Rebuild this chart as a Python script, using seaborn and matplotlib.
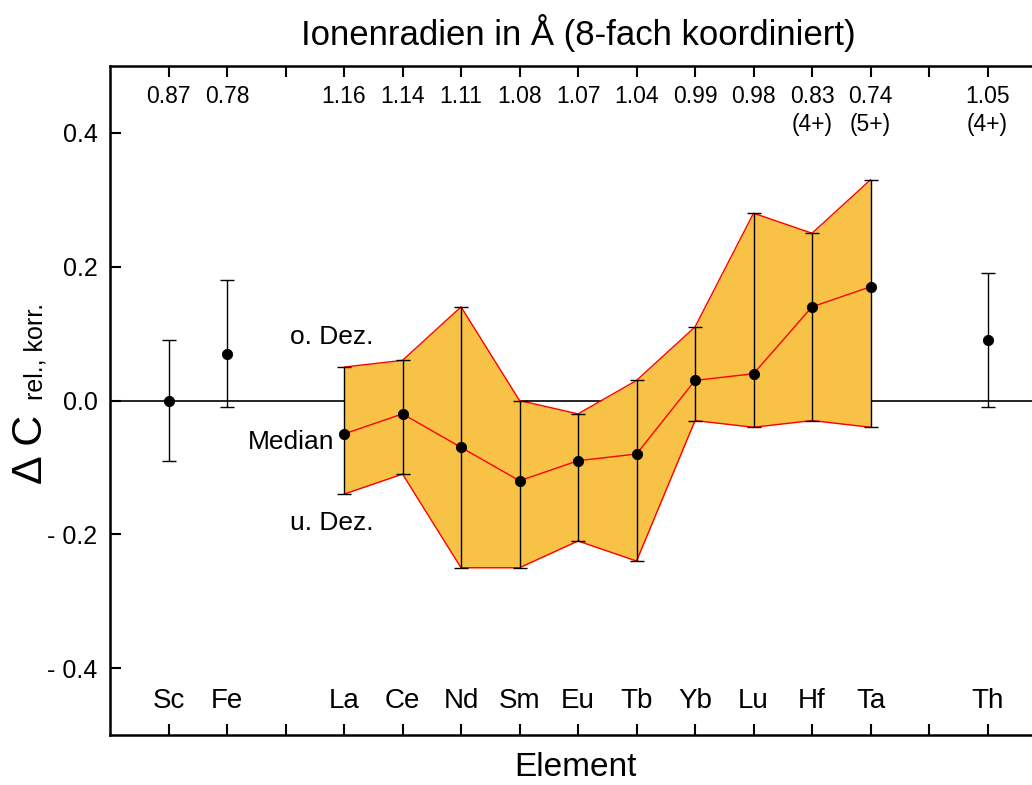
import matplotlib
matplotlib.use("Agg")
import matplotlib.pyplot as plt
import seaborn as sns
import numpy as np

# data
elements = ["Sc", "Fe", "", "La", "Ce", "Nd", "Sm", "Eu", "Tb", "Yb", "Lu", "Hf", "Ta", "", "Th"]
radii = ["0.87", "0.78", "", "1.16", "1.14", "1.11", "1.08", "1.07", "1.04", "0.99", "0.98", "0.83", "0.74", "", "1.05"]
charge = ["", "", "", "", "", "", "", "", "", "", "", "(4+)", "(5+)", "", "(4+)"]

ree = ["La", "Ce", "Nd", "Sm", "Eu", "Tb", "Yb", "Lu", "Hf", "Ta"]
ree_median = [-0.05, -0.02, -0.07, -0.12, -0.09, -0.08, 0.03, 0.04, 0.14, 0.17]
ree_low = [-0.14, -0.11, -0.25, -0.25, -0.21, -0.24, -0.03, -0.04, -0.03, -0.04]
ree_high = [0.05, 0.06, 0.14, 0.00, -0.02, 0.03, 0.11, 0.28, 0.25, 0.33]

single = ["Sc", "Fe", "Th"]
single_median = [0.00, 0.07, 0.09]
single_low = [-0.09, -0.01, -0.01]
single_high = [0.09, 0.18, 0.19]

sns.set_style("ticks")
plt.rcParams['font.family'] = ['Liberation Sans', 'DejaVu Sans']
plt.rcParams['text.color'] = 'black'
plt.rcParams['axes.edgecolor'] = 'black'
plt.rcParams['xtick.color'] = 'black'
plt.rcParams['ytick.color'] = 'black'
plt.rcParams['axes.labelcolor'] = 'black'

pos = {e: i for i, e in enumerate(elements) if e}
xr = np.array([pos[e] for e in ree])
xs = np.array([pos[e] for e in single])

fig = plt.figure(figsize=(10.32, 7.85), dpi=100)
ax = fig.add_axes([110 / 1032, 1 - 735 / 785, 922 / 1032, 669 / 785])

ax.axhline(0, color="black", lw=1.2, zorder=1)
ax.fill_between(xr, ree_low, ree_high, color="#F8C247", lw=0, zorder=2)
ax.plot(xr, ree_high, color="red", lw=1, zorder=3)
ax.plot(xr, ree_low, color="red", lw=1, zorder=3)

med = np.array(ree_median)
ax.errorbar(xr, med, yerr=[med - np.array(ree_low), np.array(ree_high) - med],
            fmt="none", ecolor="black", elinewidth=1, capsize=5, capthick=1, zorder=4)
sm = np.array(single_median)
ax.errorbar(xs, sm, yerr=[sm - np.array(single_low), np.array(single_high) - sm],
            fmt="none", ecolor="black", elinewidth=1, capsize=5, capthick=1, zorder=4)

sns.lineplot(x=xr, y=ree_median, color="red", lw=1, ax=ax, zorder=5)
sns.scatterplot(x=np.concatenate([xs, xr]), y=np.concatenate([sm, med]),
                color="black", s=55, edgecolor="black", ax=ax, zorder=6)

ax.set_xlim(-1, 14.76)
ax.set_ylim(-0.5, 0.5)
ax.set_xticks(range(len(elements)))
ax.set_xticklabels([])
ax.set_yticks([-0.4, -0.2, 0.0, 0.2, 0.4])
ax.set_yticklabels(["- 0.4", "- 0.2", "0.0", "0.2", "0.4"])
ax.tick_params(axis="x", direction="in", length=8, width=1.5, top=True, bottom=True)
ax.tick_params(axis="y", direction="in", length=8, width=1.5, labelsize=18, pad=9)
for s in ["left", "bottom", "top"]:
    ax.spines[s].set_linewidth(1.8)
ax.spines["right"].set_visible(False)

for i, e in enumerate(elements):
    if e:
        ax.text(i, -0.449, e, ha="center", va="center", fontsize=20)
    if radii[i]:
        ax.text(i, 0.454, radii[i], ha="center", va="center", fontsize=16.5)
    if charge[i]:
        ax.text(i, 0.412, charge[i], ha="center", va="center", fontsize=16.5)

ax.text(3.5, 0.095, "o. Dez.", ha="right", va="center", fontsize=19)
ax.text(2.84, -0.062, "Median", ha="right", va="center", fontsize=19)
ax.text(3.5, -0.183, "u. Dez.", ha="right", va="center", fontsize=19)

# axis labels and title placed in figure pixels
fig.text(575 / 1032, 1 - 768 / 785, "Element", ha="center", va="center", fontsize=24)
fig.text(42 / 1032, 1 - 484 / 785, "Δ C", rotation=90, rotation_mode="anchor",
         ha="left", va="baseline", fontsize=31)
fig.text(42 / 1032, 1 - 400 / 785, "rel., korr.", rotation=90, rotation_mode="anchor",
         ha="left", va="baseline", fontsize=18)
fig.text(578 / 1032, 1 - 33 / 785, "Ionenradien in Å (8-fach koordiniert)",
         ha="center", va="center", fontsize=25)

fig.savefig("out.png", dpi=100)
